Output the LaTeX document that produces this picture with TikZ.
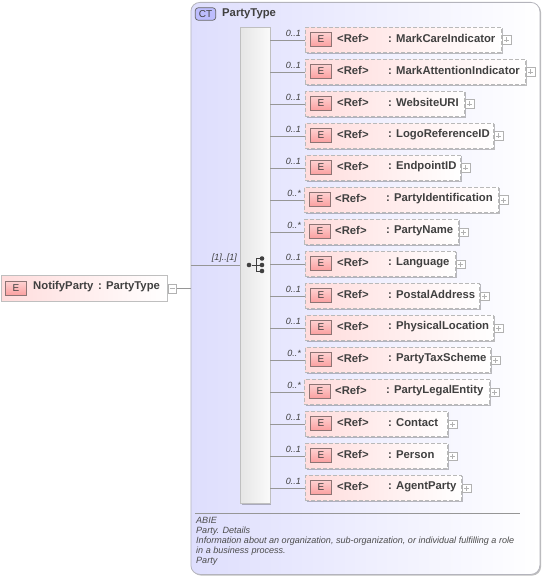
\documentclass[tikz,border=0pt]{standalone}
\usepackage{fontspec}
\setmainfont{Liberation Sans}
\usetikzlibrary{shadows}
\definecolor{ctfill}{HTML}{DEDEFD}
\definecolor{ctedge}{HTML}{B4B4BC}
\definecolor{efill}{HTML}{FFDCDC}
\definecolor{badge}{HTML}{FBA0A0}
\definecolor{badgeedge}{HTML}{8C7474}
\definecolor{wire}{HTML}{969696}
\tikzset{
  softshadow/.style={drop shadow={shadow xshift=1.2pt,shadow yshift=-1.2pt,fill=black,opacity=.25}},
  elembox/.style={draw=#1,line width=.8pt,left color=efill,right color=white,anchor=north west,minimum height=25.5pt,inner sep=0pt,softshadow},
  ebadge/.style={draw=badgeedge,line width=.8pt,top color=badge!50,bottom color=badge,minimum width=20.5pt,minimum height=13.5pt,inner sep=0pt,font=\fontsize{10}{10}\selectfont,text=black!75},
  namelabel/.style={anchor=west,inner sep=0pt,font=\fontsize{11.3}{11.3}\selectfont\bfseries,text=black!75},
  cardlabel/.style={anchor=east,inner sep=0pt,font=\fontsize{9}{9}\selectfont\itshape,text=black!75},
  notelabel/.style={anchor=west,inner sep=0pt,font=\fontsize{9.05}{9.05}\selectfont\itshape,text=black!70},
  togglebox/.style={draw=gray!60,fill=white,line width=.5pt,minimum size=8.5pt,inner sep=0pt,anchor=west},
  wireline/.style={draw=wire,line width=.7pt},
  seqdot/.style={circle,fill=black!75,minimum size=4.6pt,inner sep=0pt},
}
% #1 row, #2 y, #3 left, #4 width, #5 card, #6 x of Ref, #7 x of colon, #8 name
\newcommand{\refrow}[8]{
  \node[elembox=gray!55,dash pattern=on 4pt off 2pt,minimum width=#4pt] (box#1) at (#3,#2-12.75) {};
  \node[ebadge] (badge#1) at (#3+16,#2) {E};
  \node[namelabel] (ref#1) at (#6,#2-1) {<Ref>};
  \node[namelabel] (name#1) at (#7,#2-1) {: #8};
  \node[togglebox] (plus#1) at (#3+#4+1,#2+.5) {};
  \draw[gray!60,line width=.5pt] (plus#1.center) ++(-2.5,0) -- ++(5,0) (plus#1.center) ++(0,-2.5) -- ++(0,5);
  \node[cardlabel] (card#1) at (301,#2-6.5) {#5};
  \draw[wireline] (seq.east |- box#1.west) -- (box#1.west);
}
\begin{document}
\begin{tikzpicture}[x=1pt,y=-1pt]
  \useasboundingbox (0,0) rectangle (544,577);
  % complex type
  \node[draw=ctedge,line width=.8pt,rounded corners=9pt,left color=ctfill,right color=white,anchor=north west,minimum width=349pt,minimum height=572pt,inner sep=0pt,softshadow] (party) at (190.5,2) {};
  \node[draw=black!60,line width=.7pt,fill=ctfill!85!blue,rounded corners=3pt,minimum width=20.5pt,minimum height=12.5pt,inner sep=0pt,font=\fontsize{10}{10}\selectfont,text=black!75] (ct) at (205.5,14) {CT};
  \node[namelabel] (title) at (222,13.5) {PartyType};
  % sequence
  \node[draw=gray!50,line width=.7pt,left color=gray!20,right color=gray!4,anchor=north west,minimum width=29.5pt,minimum height=476pt,inner sep=0pt,softshadow] (seq) at (240,27) {};
  \node[seqdot] (dot) at (249,265) {};
  \node[seqdot] (dota) at (262,258.5) {};
  \node[seqdot] (dotb) at (262,265) {};
  \node[seqdot] (dotc) at (262,271) {};
  \draw[black!75,line width=.9pt] (dot) -- (dotb) (256,258.5) -- (dota) (256,271) -- (dotc) (256,258.5) -- (256,271);
  % rows
  \refrow{1}{39.5}{305}{196}{0..1}{337}{388}{MarkCareIndicator}
  \refrow{2}{71.5}{305}{220}{0..1}{337}{388}{MarkAttentionIndicator}
  \refrow{3}{103.5}{305}{159}{0..1}{337}{388}{WebsiteURI}
  \refrow{4}{135.5}{305}{188}{0..1}{337}{388}{LogoReferenceID}
  \refrow{5}{167.5}{305}{155}{0..1}{337}{388}{EndpointID}
  \refrow{6}{199.5}{304}{194}{0..*}{335}{386}{PartyIdentification}
  \refrow{7}{231.5}{304}{154}{0..*}{335}{386}{PartyName}
  \refrow{8}{263.5}{305}{150}{0..1}{337}{388}{Language}
  \refrow{9}{295.5}{305}{174}{0..1}{337}{388}{PostalAddress}
  \refrow{10}{327.5}{305}{188}{0..1}{337}{388}{PhysicalLocation}
  \refrow{11}{359.5}{305}{185}{0..*}{337}{388}{PartyTaxScheme}
  \refrow{12}{391.5}{304}{185}{0..*}{335}{386}{PartyLegalEntity}
  \refrow{13}{423.5}{305}{142}{0..1}{337}{388}{Contact}
  \refrow{14}{455.5}{305}{142}{0..1}{337}{388}{Person}
  \refrow{15}{487.5}{305}{156}{0..1}{337}{388}{AgentParty}
  % notify party
  \node[elembox=gray!50,minimum width=165.5pt] (notify) at (1,275) {};
  \node[ebadge] (badge) at (16,288.5) {E};
  \node[namelabel] (notifyname) at (33,287) {NotifyParty};
  \node[namelabel] (notifytype) at (98,287) {: PartyType};
  \node[togglebox] (minus) at (167.5,288.5) {};
  \draw[gray!60,line width=.5pt] (minus.center) ++(-2.5,0) -- ++(5,0);
  \coordinate (join) at (190.5,288.5);
  \coordinate (entry) at (190.5,265);
  \draw[wireline] (minus.east) -- (join);
  \draw[wireline] (entry) -- (seq.west |- entry);
  \node[cardlabel] (seqcard) at (237,258) {[1]..[1]};
  % notes
  \coordinate (ruleA) at (195,513);
  \coordinate (ruleB) at (520,513);
  \draw[wireline] (ruleA) -- (ruleB);
  \node[notelabel] (noteA) at (196,520.5) {ABIE};
  \node[notelabel] (noteB) at (196,531) {Party. Details};
  \node[notelabel] (noteC) at (196,541) {Information about an organization, sub-organization, or individual fulfilling a role};
  \node[notelabel] (noteD) at (196,551) {in a business process.};
  \node[notelabel] (noteE) at (196,561.5) {Party};
\end{tikzpicture}
\end{document}
